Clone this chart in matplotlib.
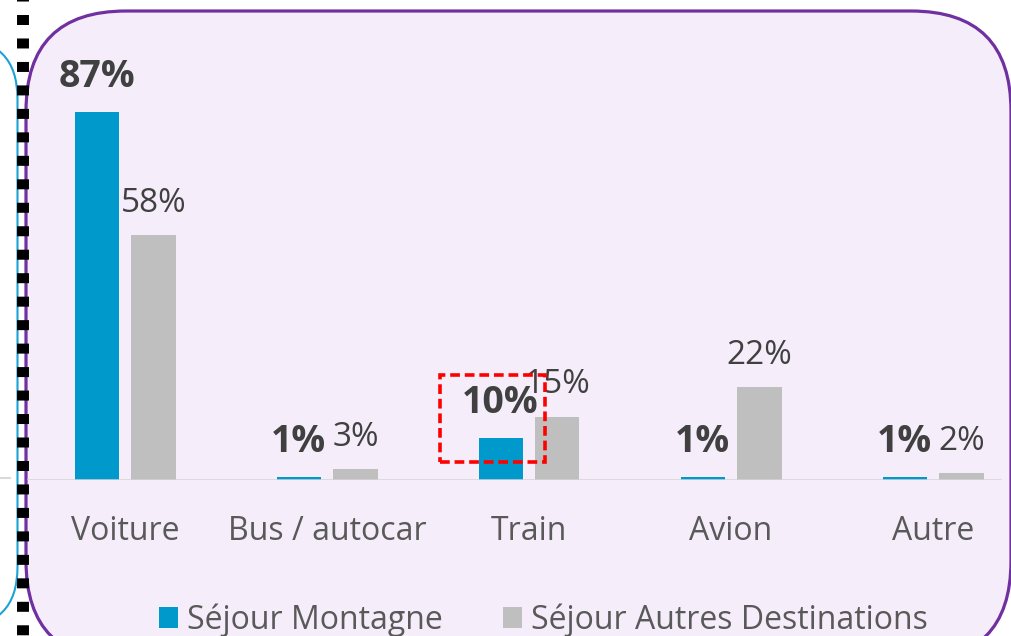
import matplotlib.pyplot as plt
from matplotlib.patches import FancyBboxPatch, Rectangle

plt.rcParams['font.family'] = ['Open Sans', 'DejaVu Sans']
plt.rcParams['lines.scale_dashes'] = False

categories = ['Voiture', 'Bus / autocar', 'Train', 'Avion', 'Autre']
montagne = [87, 0.6, 10, 0.6, 0.6]
autres = [58, 2.6, 15, 22, 1.7]
series_names = ['Séjour Montagne', 'Séjour Autres Destinations']

blue = '#0099CC'
grey = '#BFBFBF'
txt_dark = '#404040'
txt_mid = '#595959'

fig = plt.figure(figsize=(10.12, 6.36), dpi=100)

# background decorations, drawn in pixel units
bg = fig.add_axes([0, 0, 1, 1], zorder=0)
bg.set_xlim(0, 1012)
bg.set_ylim(636, 0)
bg.axis('off')
bg.add_patch(FancyBboxPatch((-200, 39), 217.5, 588, boxstyle='round,pad=0,rounding_size=60',
                            facecolor='white', edgecolor='#1AA3D4', lw=1.5))
bg.plot([0, 10], [478, 478], color='#D9D9D9', lw=1.5)
bg.add_patch(FancyBboxPatch((26, 11), 985, 650, boxstyle='round,pad=0,rounding_size=100',
                            facecolor='#F5EEFA', edgecolor='#7030A0', lw=2.3))
bg.plot([23, 23], [0, 636], color='black', lw=8.6, linestyle=(6.1, (7.2, 9.7)))

# main chart
ax = fig.add_axes([24 / 1012, 156 / 636, 1010 / 1012, 380 / 636], zorder=1)
ax.patch.set_alpha(0)
w = 0.218
off = 0.141
xs = range(len(categories))
b1 = ax.bar([x - off for x in xs], montagne, width=w, color=blue, label=series_names[0])
b2 = ax.bar([x + off for x in xs], autres, width=w, color=grey, label=series_names[1])
ax.set_xlim(-0.5, 4.5)
ax.set_ylim(0, 89.8)
for s in ax.spines.values():
    s.set_visible(False)
ax.axhline(0, xmin=0.004, xmax=0.966, color='#D4D4D4', lw=1.8, zorder=3)
ax.set_yticks([])
ax.set_xticks(list(xs))
ax.set_xticklabels(categories, fontsize=23, color=txt_mid)
ax.tick_params(axis='x', length=0, pad=25.5)

for x, v in zip(xs, montagne):
    ax.annotate(f'{round(v)}%', (x - off, v), xytext=(0, 18), textcoords='offset points',
                ha='center', va='baseline', fontsize=27, fontweight='bold', color=txt_dark,
                annotation_clip=False, zorder=5)
for x, v in zip(xs, autres):
    ax.annotate(f'{round(v)}%', (x + off, v), xytext=(0, 16.6), textcoords='offset points',
                ha='center', va='baseline', fontsize=24, color=txt_dark,
                annotation_clip=False, zorder=5)

# red highlight around the train label
ax.add_patch(Rectangle((2 - 0.44, 4.3), 0.52, 20.5, fill=False, edgecolor='#FF0000',
                       lw=2.6, linestyle=(0, (7, 3.5)), clip_on=False, zorder=6))

fig.legend(handles=[b1, b2], loc='center', bbox_to_anchor=(543.5 / 1012, 1 - 620 / 636),
           ncol=2, frameon=False, fontsize=23, labelcolor=txt_mid, handlelength=0.6,
           handleheight=0.6, handletextpad=0.28, columnspacing=1.9)

fig.savefig('out.png', dpi=100)
